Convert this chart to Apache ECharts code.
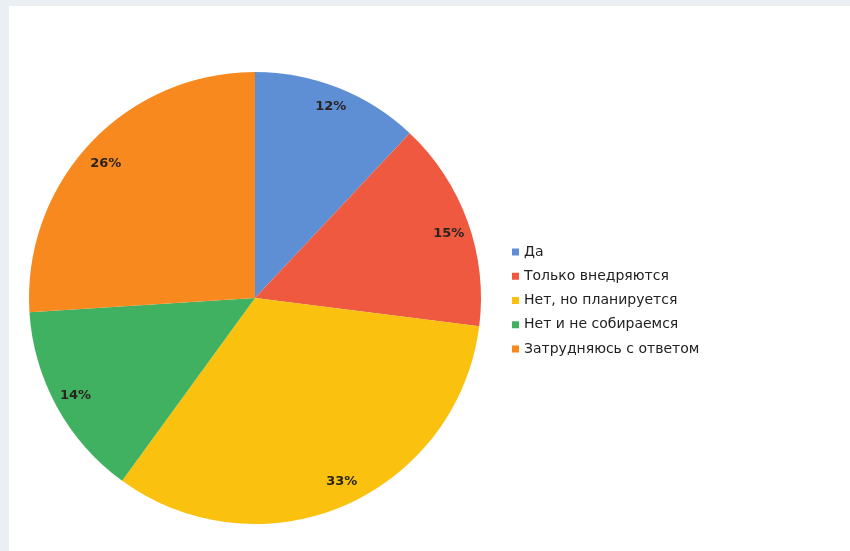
<!DOCTYPE html>
<html>
<head>
<meta charset="utf-8">
<script src="https://cdn.jsdelivr.net/npm/echarts@6/dist/echarts.min.js"></script>
<style>
  html, body { margin: 0; padding: 0; background: #ffffff; }
  #chart { width: 850px; height: 551px; }
</style>
</head>
<body>
<div id="chart"></div>
<script>
// Survey answers and their shares, %
const categories = ['Да', 'Только внедряются', 'Нет, но планируется', 'Нет и не собираемся', 'Затрудняюсь с ответом'];
const shares = [12, 15, 33, 14, 26];
const sliceColors = ['#5e8fd5', '#ef5940', '#fac20f', '#40b160', '#f7891f'];

const pieData = categories.map((name, i) => ({ name: name, value: shares[i] }));

// small per-slice nudges of the percentage labels, px
const labelNudge = [[0, 0], [0, 5], [5, -5], [1, -2], [1, 7]];

const chart = echarts.init(document.getElementById('chart'), null, { renderer: 'canvas' });

chart.setOption({
  backgroundColor: '#ffffff',
  animation: false,
  color: sliceColors,
  graphic: [
    // light frame along the top and left edges
    { type: 'rect', left: 0, top: 0, shape: { width: 850, height: 6 }, style: { fill: '#e9eff2' }, silent: true, z: -1 },
    { type: 'rect', left: 0, top: 0, shape: { width: 9, height: 551 }, style: { fill: '#e9eff2' }, silent: true, z: -1 }
  ],
  legend: {
    orient: 'vertical',
    left: 512,
    top: 244,
    padding: 0,
    icon: 'rect',
    itemWidth: 7,
    itemHeight: 7,
    itemGap: 8.25,
    textStyle: {
      fontFamily: 'DejaVu Sans, sans-serif',
      fontSize: 14,
      lineHeight: 16,
      color: '#222222'
    },
    data: categories
  },
  series: [
    {
      name: 'slices',
      type: 'pie',
      center: [255, 298],
      radius: [0, 226],
      startAngle: 90,
      clockwise: true,
      label: { show: false },
      labelLine: { show: false },
      itemStyle: { borderWidth: 0 },
      emphasis: { disabled: true },
      data: pieData
    },
    {
      // transparent ring carrying the percentage labels near the rim
      name: 'labels',
      type: 'pie',
      center: [255, 298],
      radius: [180, 226],
      startAngle: 90,
      clockwise: true,
      silent: true,
      itemStyle: { color: 'transparent', borderWidth: 0 },
      label: {
        show: true,
        position: 'inside',
        formatter: '{c}%',
        fontFamily: 'DejaVu Sans, sans-serif',
        fontWeight: 'bold',
        fontSize: 13,
        color: '#2a2420'
      },
      labelLayout: function (params) {
        const n = labelNudge[params.dataIndex] || [0, 0];
        return { dx: n[0], dy: n[1] };
      },
      labelLine: { show: false },
      emphasis: { disabled: true },
      data: pieData
    }
  ]
});
</script>
</body>
</html>
